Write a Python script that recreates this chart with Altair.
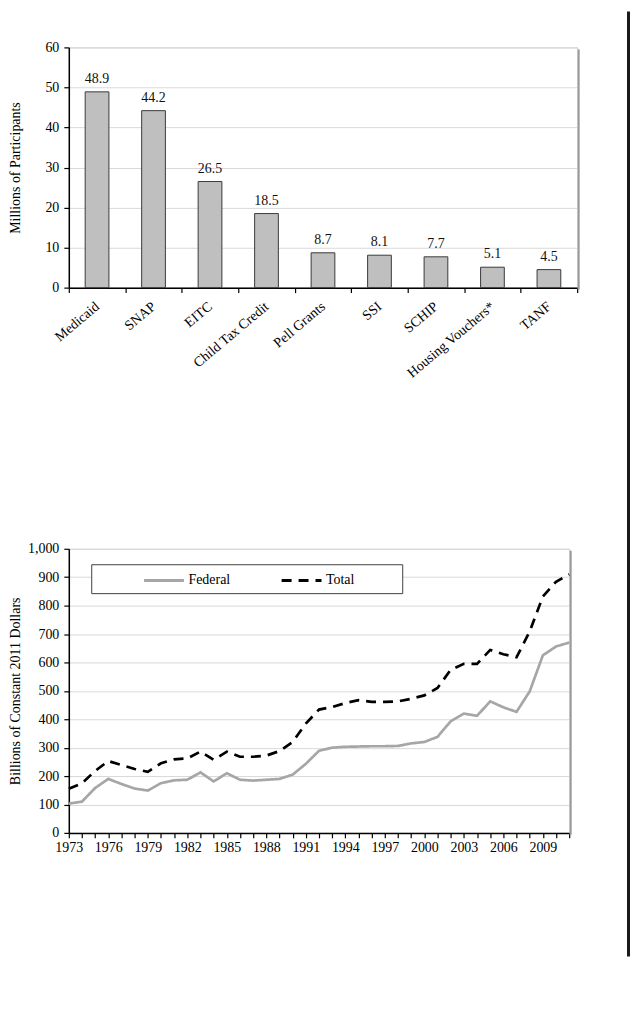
import altair as alt
import pandas as pd

FONT = "Liberation Serif"

# ---- data: program participation (millions) ----
programs = ["Medicaid", "SNAP", "EITC", "Child Tax Credit", "Pell Grants",
            "SSI", "SCHIP", "Housing Vouchers*", "TANF"]
participants = [48.9, 44.2, 26.5, 18.5, 8.7, 8.1, 7.7, 5.1, 4.5]

# ---- data: spending (billions of constant 2011 dollars) ----
years = list(range(1973, 2012))
federal = [103, 110, 158, 190, 172, 156, 149, 175, 185, 187,
           213, 181, 210, 187, 184, 187, 190, 205, 243, 289,
           300, 303, 304, 305, 305, 306, 315, 320, 338, 393,
           420, 412, 463, 442, 426, 498, 625, 656, 670]
total = [155, 175, 218, 253, 239, 225, 215, 245, 259, 262,
         286, 257, 286, 268, 268, 272, 288, 320, 385, 434,
         443, 457, 467, 461, 461, 463, 472, 484, 510, 574,
         595, 595, 644, 629, 618, 709, 832, 884, 910]
series_names = ["Federal", "Total"]

bar_df = pd.DataFrame({"program": programs, "participants": participants})
line_df = pd.DataFrame({
    "year": years + years,
    "value": federal + total,
    "series": [series_names[0]] * len(years) + [series_names[1]] * len(years),
})
one = pd.DataFrame({"k": [0]})

W1, H1 = 510, 241
W2, H2 = 502, 285

# ---------------- top: bar chart ----------------
xband = alt.X("program:N", sort=programs,
              scale=alt.Scale(paddingInner=0, paddingOuter=0),
              axis=alt.Axis(title=None, labelAngle=-40, labelAlign="right",
                            labelBaseline="middle", labelPadding=12,
                            tickBand="extent", grid=False))
ybar = alt.Y("participants:Q", scale=alt.Scale(domain=[0, 60], nice=False),
             axis=alt.Axis(values=list(range(0, 70, 10)),
                           title="Millions of Participants",
                           titleX=-53, titleBaseline="middle", labelPadding=5))

bars = alt.Chart(bar_df).mark_bar(
    width=alt.RelativeBandSize(band=0.42), fill="#bfbfbf",
    stroke="#3a3a3a", strokeWidth=1
).encode(x=xband, y=ybar)

bar_text = alt.Chart(bar_df).mark_text(
    baseline="bottom", dy=-6, font=FONT, fontSize=14, color="#111111"
).encode(x=alt.X("program:N", sort=programs),
         y="participants:Q",
         text=alt.Text("participants:Q", format=".1f"))

shadow1 = alt.Chart(one).mark_rule(color="#9a9a9a", strokeWidth=2).encode(
    x=alt.value(W1 + 1.5), y=alt.value(2), y2=alt.value(H1 + 2))

page_rule = alt.Chart(one).mark_rule(color="#1a1a1a", strokeWidth=3).encode(
    x=alt.value(561.5), y=alt.value(-36), y2=alt.value(912))

top = alt.layer(bars, bar_text, shadow1, page_rule).properties(width=W1, height=H1)

# ---------------- bottom: line chart ----------------
leg = alt.Legend(orient="none", legendX=74, legendY=10, direction="horizontal",
                 title=None, symbolType="stroke", symbolSize=1600,
                 symbolStrokeWidth=3, labelFont=FONT, labelFontSize=14,
                 labelColor="#000000", labelOffset=3, columnPadding=45,
                 padding=0)

lines = alt.Chart(line_df).mark_line(strokeWidth=2.7).encode(
    x=alt.X("year:Q", scale=alt.Scale(domain=[1973, 2011], nice=False, zero=False),
            axis=alt.Axis(values=years, title=None, grid=False, labelFlush=False,
                          labelExpr="(datum.value - 1973) % 3 == 0 ? datum.value : ''",
                          labelOverlap=False, labelPadding=3)),
    y=alt.Y("value:Q", scale=alt.Scale(domain=[0, 1000], nice=False),
            axis=alt.Axis(values=list(range(0, 1100, 100)), format=",d",
                          title="Billions of Constant 2011 Dollars",
                          titleX=-53, titleBaseline="middle", labelPadding=5)),
    color=alt.Color("series:N",
                    scale=alt.Scale(domain=series_names, range=["#a6a6a6", "#000000"]),
                    legend=leg),
    strokeDash=alt.StrokeDash("series:N",
                              scale=alt.Scale(domain=series_names, range=[[1, 0], [10, 7]]),
                              legend=leg),
)

legend_box = alt.Chart(one).mark_rect(fill="white", stroke="#404040", strokeWidth=1).encode(
    x=alt.value(23), x2=alt.value(335), y=alt.value(16), y2=alt.value(45))

shadow2 = alt.Chart(one).mark_rule(color="#9a9a9a", strokeWidth=2).encode(
    x=alt.value(W2 + 1.5), y=alt.value(2), y2=alt.value(H2 + 2))

bottom = alt.layer(lines, legend_box, shadow2).properties(width=W2, height=H2)

chart = alt.vconcat(top, bottom, spacing=262, bounds="flush").resolve_scale(
    color="independent", strokeDash="independent"
).resolve_legend(
    color="independent", strokeDash="independent"
).properties(
    padding={"left": 0, "top": 0, "right": 0, "bottom": 0}
).configure_view(
    stroke="#cccccc", strokeWidth=1
).configure_axis(
    labelFont=FONT, titleFont=FONT, labelFontSize=14, titleFontSize=14,
    titleFontWeight="normal", labelColor="#000000", titleColor="#000000",
    domainColor="#000000", domainWidth=1.5, tickColor="#000000", tickWidth=1.2,
    tickSize=5, gridColor="#d9d9d9", gridWidth=1
)

chart.save("out.html", embed_options={"renderer": "svg", "actions": False})
